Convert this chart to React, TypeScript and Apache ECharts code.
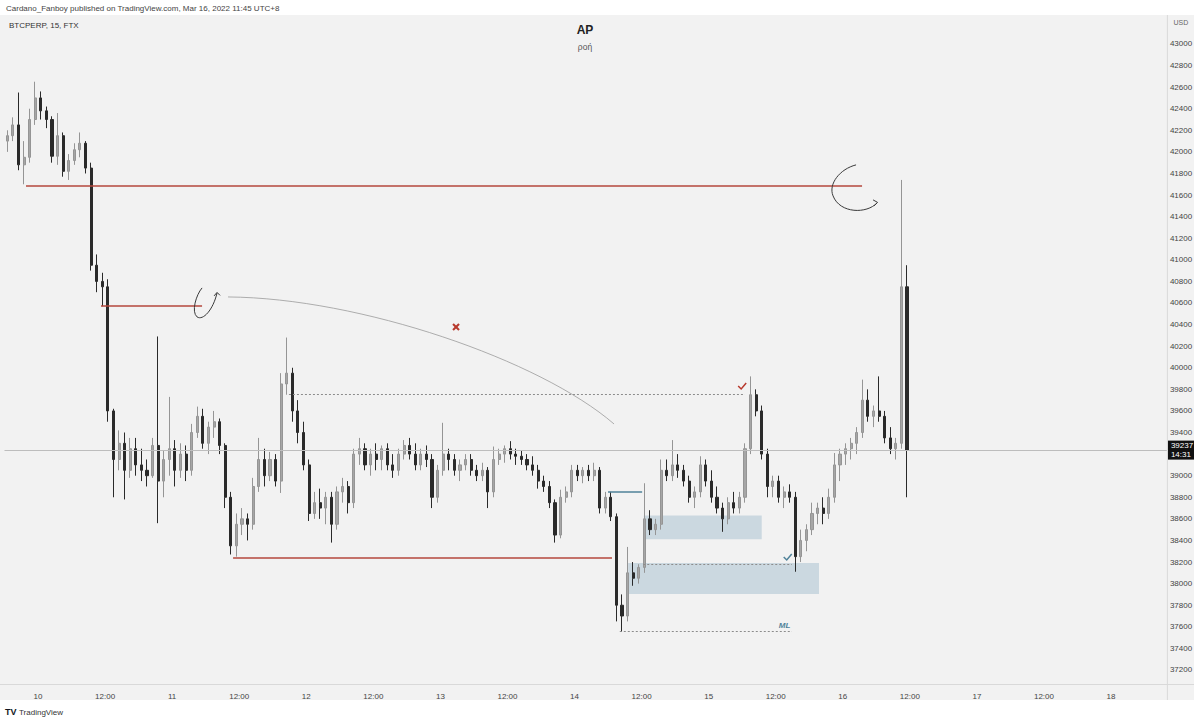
import React, { useEffect, useRef } from 'react';
import * as echarts from 'echarts';

// Hourly candles, hours counted from Mar 10 00:00 (UTC+8). First candle = Mar 9 18:00.
const HOUR0 = -6;
const HOUR_END = 202;
const FIRST_DAY = 10;

const open = [
  42100,42150,42250,41880,41950,42300,
  42500,42380,42300,41960,42150,41820,41920,42020,42080,41850,
  40950,40800,40750,39600,39150,39300,39050,39250,39100,39050,
  39000,39280,38950,39150,39250,39050,39200,39050,39400,39550,
  39300,39450,39500,39280,38800,38350,38550,38600,38550,38900,
  39150,39000,39150,38950,39850,39950,39600,39400,39100,38650,
  38750,38700,38800,38550,38850,38900,38750,39200,39250,39100,
  39200,39150,39250,39100,39050,39200,39280,39200,39100,39200,
  39150,38800,39050,39200,39150,39050,39100,39150,39050,39000,
  39050,38850,39150,39200,39250,39200,39180,39150,39100,39050,
  38950,38900,38750,38450,38800,38850,39050,39000,39050,39000,
  39050,38700,38800,38620,37800,37700,38100,38050,38150,38600,
  38500,38550,39050,39000,39100,39050,38950,38800,38850,39100,
  38950,38800,38700,38600,38750,38700,38800,39250,39750,39600,
  39200,38900,38950,38800,38850,38800,38250,38400,38500,38650,
  38700,38650,38800,39100,39200,39250,39300,39400,39700,39550,
  39600,39550,39350,39250,39300,40750,
];
const high = [
  42200,42320,42550,42100,42400,42650,
  42560,42420,42330,42360,42180,41980,42080,42180,42100,41900,
  41050,40880,40820,39620,39420,39400,39350,39350,39250,39150,
  39350,40290,39230,39730,39330,39300,39280,39480,39640,39620,
  39500,39600,39530,39300,38850,38650,38700,38650,38980,39350,
  39250,39220,39200,39950,40280,40000,39700,39500,39150,38850,
  38880,38850,38850,38900,38980,38950,39250,39350,39300,39250,
  39300,39280,39300,39200,39250,39330,39350,39300,39250,39280,
  39200,39100,39490,39250,39200,39150,39200,39200,39100,39120,
  39080,39270,39250,39280,39320,39250,39230,39200,39180,39100,
  39000,38950,38780,38870,38900,39100,39100,39080,39100,39120,
  39080,38850,38850,38650,37900,38340,38200,38180,38930,38680,
  38600,39150,39150,39330,39200,39100,39000,38900,39180,39150,
  39050,38900,38750,38800,38850,38850,39300,39920,39800,39650,
  39250,39000,39000,38900,38920,38850,38500,38550,38750,38750,
  38800,38880,39210,39250,39300,39350,39450,39890,39800,39650,
  39920,39600,39450,39350,41740,40950,
];
const low = [
  42000,42100,41830,41700,41900,42250,
  42300,42220,41900,41880,41770,41740,41880,41950,41800,40900,
  40700,40570,39500,38800,39050,38780,38980,39000,38950,38900,
  38980,38560,38800,39000,38900,38980,38950,39000,39350,39250,
  39200,39350,39200,38700,38270,38250,38450,38400,38500,38850,
  38900,38950,38900,38840,39750,39500,39300,39050,38580,38600,
  38600,38550,38380,38500,38750,38650,38700,39100,39050,39000,
  39050,39050,39050,38980,39000,39150,39150,39050,39050,39080,
  38700,38750,39000,39050,39000,38950,39050,39000,38950,38950,
  38700,38800,39100,39120,39150,39100,39100,39050,39000,38880,
  38850,38700,38380,38420,38750,38800,38950,38930,38950,38950,
  38650,38650,38580,37650,37555,37650,37980,38000,38100,38450,
  38450,38500,38950,38950,38980,38900,38750,38700,38800,38900,
  38750,38650,38480,38550,38650,38650,38750,39200,39550,39150,
  38800,38800,38750,38700,38750,38110,38200,38300,38450,38550,
  38550,38600,38750,38950,39100,39150,39200,39350,39500,39450,
  39500,39300,39200,39150,39250,38800,
];
const close = [
  42150,42250,41880,41950,42300,42500,
  42380,42300,41960,42150,41820,41920,42020,42080,41850,40950,
  40800,40750,39600,39150,39300,39050,39250,39100,39050,39000,
  39280,38950,39150,39250,39050,39200,39050,39400,39550,39300,
  39450,39500,39280,38800,38350,38550,38600,38550,38900,39150,
  39000,39150,38950,39850,39950,39600,39400,39100,38650,38750,
  38700,38800,38550,38850,38900,38750,39200,39250,39100,39200,
  39150,39250,39100,39050,39200,39280,39200,39100,39200,39150,
  38800,39050,39200,39150,39050,39100,39150,39050,39000,39050,
  38850,39150,39200,39250,39200,39180,39150,39100,39050,38950,
  38900,38750,38450,38800,38850,39050,39000,39050,39000,39050,
  38700,38800,38620,37800,37700,38100,38050,38150,38600,38500,
  38550,39050,39000,39100,39050,38950,38800,38850,39100,38950,
  38800,38700,38600,38750,38700,38800,39250,39750,39600,39200,
  38900,38950,38800,38850,38800,38250,38400,38500,38650,38700,
  38650,38800,39100,39200,39250,39300,39400,39700,39550,39600,
  39550,39350,39250,39300,40750,39237,
];

const lastPrice = 39237;
const countdown = '14:31';

// Drawings, in (hour, price)
const redLevels = [
  { from: -2.15, to: 147.45, price: 41685 },
  { from: 11.27, to: 29.35, price: 40573 },
  { from: 34.9, to: 102.7, price: 38238 },
];
const dottedLevels = [
  { from: 44.9, to: 126.5, price: 39757 },
  { from: 108.3, to: 134.9, price: 38180 },
  { from: 104.1, to: 134.9, price: 37555 },
];
const blueLevels = [{ from: 102, to: 108.1, price: 38849 }];
const zones = [
  { from: 108.4, to: 129.5, top: 38630, bottom: 38411 },
  { from: 105.6, to: 139.75, top: 38191, bottom: 37904 },
];
const curvePts = [
  [34, 40656],
  [57.6, 40647],
  [89.83, 40072],
  [103.07, 39479],
];
const redCheck = [126, 39831];
const blueCheck = [134.15, 38247];
const redCross = [74.8, 40378];
const mlLabel = [133.6, 37610];

const categories = Array.from({ length: HOUR_END - HOUR0 }, (_, i) => String(HOUR0 + i));
const candles = open.map((o, i) => [o, close[i], low[i], high[i]]);

const FONT = '"Liberation Sans", Arial, sans-serif';
const RED = '#b5473c';
const BLUE = '#4f8299';

export default function App() {
  const ref = useRef<HTMLDivElement>(null);
  useEffect(() => {
    document.body.style.margin = '0';
    const chart = echarts.init(ref.current!, null, { renderer: 'svg' });
    const seg = (from: number, to: number, price: number, lineStyle: any) => [
      { coord: [from, price], lineStyle },
      { coord: [to, price] },
    ];
    chart.setOption({
      animation: false,
      backgroundColor: '#f2f2f2',
      textStyle: { fontFamily: FONT },
      grid: { left: 4.5, right: 33.1, top: 16, bottom: 37 },
      xAxis: [
        { type: 'category', data: categories, boundaryGap: true, show: false },
        {
          type: 'value',
          min: HOUR0,
          max: HOUR_END,
          minInterval: 12,
          maxInterval: 12,
          splitNumber: 17,
          position: 'bottom',
          axisLine: { show: false },
          axisTick: { show: false },
          splitLine: { show: false },
          axisLabel: {
            fontSize: 8,
            color: '#444',
            margin: 8,
            formatter: (v: number) => {
              if (v % 12 !== 0) return '';
              return v % 24 === 0 ? String(FIRST_DAY + v / 24) : '12:00';
            },
          },
        },
      ],
      yAxis: {
        type: 'value',
        position: 'right',
        min: 37070,
        max: 43259,
        minInterval: 200,
        maxInterval: 200,
        splitNumber: 30,
        axisLine: { show: false },
        axisTick: { show: false },
        splitLine: { show: false },
        axisLabel: {
          fontSize: 8,
          color: '#444',
          margin: 3,
          formatter: (v: number) => (v % 200 === 0 && v <= 43000 ? String(v) : ''),
        },
      },
      series: [
        {
          type: 'line',
          xAxisIndex: 1,
          yAxisIndex: 0,
          data: [],
          z: 1,
          silent: true,
          markArea: {
            silent: true,
            itemStyle: { color: '#cbd8e0' },
            data: zones.map((zn) => [
              { coord: [zn.from, zn.top] },
              { coord: [zn.to, zn.bottom] },
            ]),
          },
        },
        {
          type: 'candlestick',
          xAxisIndex: 0,
          yAxisIndex: 0,
          data: candles,
          barWidth: 2.6,
          z: 3,
          silent: true,
          itemStyle: {
            color: '#a6a6a6',
            color0: '#2a2a2a',
            borderColor: '#959595',
            borderColor0: '#2a2a2a',
            borderWidth: 1,
          },
          markLine: {
            silent: true,
            symbol: ['none', 'none'],
            lineStyle: { color: '#bdbdbd', width: 1, type: 'solid' },
            label: {
              show: true,
              position: 'end',
              distance: 1,
              formatter: `${lastPrice}\n${countdown}`,
              backgroundColor: '#111',
              color: '#fff',
              fontSize: 8,
              lineHeight: 9,
              padding: [1, 3, 0, 3],
            },
            data: [{ yAxis: lastPrice }],
          },
        },
        {
          type: 'line',
          xAxisIndex: 1,
          yAxisIndex: 0,
          data: [],
          z: 5,
          silent: true,
          markLine: {
            silent: true,
            symbol: ['none', 'none'],
            label: { show: false },
            data: [
              ...redLevels.map((l) => seg(l.from, l.to, l.price, { color: RED, width: 1.5, type: 'solid' })),
              ...dottedLevels.map((l) => seg(l.from, l.to, l.price, { color: '#8c8c8c', width: 1, type: [2, 2] })),
              ...blueLevels.map((l) => seg(l.from, l.to, l.price, { color: BLUE, width: 1.5, type: 'solid' })),
            ],
          },
        },
      ],
    });

    const X = (h: number) => chart.convertToPixel({ xAxisIndex: 1 } as any, h) as unknown as number;
    const Y = (p: number) => chart.convertToPixel({ yAxisIndex: 0 } as any, p) as unknown as number;
    const xr = X(HOUR_END);
    const yb = Y(37070);

    const a1x = X(redLevels[1].to), a1y = Y(redLevels[1].price);
    const a2x = X(redLevels[0].to), a2y = Y(redLevels[0].price);
    const ink = { stroke: '#3a3a3a', lineWidth: 1, fill: 'none' };
    const bz = (ax: number, ay: number, p: number[]) => ({
      type: 'bezierCurve',
      z: 6,
      shape: {
        x1: ax + p[0], y1: ay + p[1],
        cpx1: ax + p[2], cpy1: ay + p[3],
        cpx2: ax + p[4], cpy2: ay + p[5],
        x2: ax + p[6], y2: ay + p[7],
      },
      style: ink,
    });
    const pl = (ax: number, ay: number, pts: number[][], style: any) => ({
      type: 'polyline',
      z: 6,
      shape: { points: pts.map(([dx, dy]) => [ax + dx, ay + dy]) },
      style,
    });

    const cx = X(redCross[0]), cy = Y(redCross[1]);
    const rcx = X(redCheck[0]), rcy = Y(redCheck[1]);
    const bcx = X(blueCheck[0]), bcy = Y(blueCheck[1]);

    chart.setOption({
      graphic: {
        elements: [
          { type: 'rect', z: 8, shape: { x: 0, y: 0, width: 1200, height: 15 }, style: { fill: '#ffffff' } },
          { type: 'rect', z: 8, shape: { x: 0, y: 700, width: 1200, height: 21 }, style: { fill: '#ffffff' } },
          { type: 'rect', z: 8, shape: { x: 1194, y: 0, width: 6, height: 721 }, style: { fill: '#ffffff' } },
          { type: 'line', z: 7, shape: { x1: 0, y1: yb + 0.5, x2: 1194, y2: yb + 0.5 }, style: { stroke: '#d9d9d9', lineWidth: 1 } },
          { type: 'line', z: 7, shape: { x1: xr + 0.5, y1: 15, x2: xr + 0.5, y2: 700 }, style: { stroke: '#d9d9d9', lineWidth: 1 } },
          { type: 'text', z: 9, style: { text: 'Cardano_Fanboy published on TradingView.com, Mar 16, 2022 11:45 UTC+8', x: 6, y: 8, fill: '#444', fontSize: 8, fontFamily: FONT, verticalAlign: 'middle' } },
          { type: 'text', z: 9, style: { text: 'BTCPERP, 15, FTX', x: 9, y: 25, fill: '#333', fontSize: 8, fontFamily: FONT, verticalAlign: 'middle' } },
          { type: 'text', z: 9, style: { text: 'AP', x: 585, y: 30, fill: '#222', fontSize: 12, fontWeight: 'bold', fontFamily: FONT, align: 'center', verticalAlign: 'middle' } },
          { type: 'text', z: 9, style: { text: 'ροή', x: 585, y: 47, fill: '#555', fontSize: 8.5, fontFamily: FONT, align: 'center', verticalAlign: 'middle' } },
          { type: 'text', z: 9, style: { text: 'USD', x: xr + 14, y: 22, fill: '#666', fontSize: 7, fontFamily: FONT, align: 'center', verticalAlign: 'middle' } },
          { type: 'text', z: 9, style: { text: 'TV', x: 5, y: 712, fill: '#131722', fontSize: 9, fontWeight: 900, fontFamily: FONT, verticalAlign: 'middle' } },
          { type: 'text', z: 9, style: { text: 'TradingView', x: 19, y: 712, fill: '#333', fontSize: 8, fontFamily: FONT, verticalAlign: 'middle' } },
          {
            type: 'bezierCurve',
            z: 6,
            shape: {
              x1: X(curvePts[0][0]), y1: Y(curvePts[0][1]),
              cpx1: X(curvePts[1][0]), cpy1: Y(curvePts[1][1]),
              cpx2: X(curvePts[2][0]), cpy2: Y(curvePts[2][1]),
              x2: X(curvePts[3][0]), y2: Y(curvePts[3][1]),
            },
            style: { stroke: '#9a9a9a', lineWidth: 0.8, fill: 'none' },
          },
          bz(a1x, a1y, [0, -18, -6, -11, -11, 6, -5, 11]),
          bz(a1x, a1y, [-5, 11, 1, 15, 11, 4, 15, -13]),
          pl(a1x, a1y, [[12, -10], [15, -13.5], [18, -10.5]], ink),
          bz(a2x, a2y, [-6, -21, -22, -17, -34, -2, -29, 10]),
          bz(a2x, a2y, [-29, 10, -22, 28, 5, 28, 15, 17]),
          pl(a2x, a2y, [[11, 14], [15.5, 16.5], [12, 20]], ink),
          { type: 'line', z: 6, shape: { x1: cx - 3, y1: cy - 3, x2: cx + 3, y2: cy + 3 }, style: { stroke: '#b83a2e', lineWidth: 2 } },
          { type: 'line', z: 6, shape: { x1: cx + 3, y1: cy - 3, x2: cx - 3, y2: cy + 3 }, style: { stroke: '#b83a2e', lineWidth: 2 } },
          pl(rcx, rcy, [[-4, 0], [-1, 3], [4, -3]], { stroke: '#b83a2e', lineWidth: 1.5, fill: 'none' }),
          pl(bcx, bcy, [[-4, 0], [-1, 3], [4, -3]], { stroke: BLUE, lineWidth: 1.5, fill: 'none' }),
          { type: 'text', z: 6, style: { text: 'ML', x: X(mlLabel[0]), y: Y(mlLabel[1]), fill: BLUE, fontSize: 8, fontStyle: 'italic', fontWeight: 'bold', fontFamily: FONT, align: 'center', verticalAlign: 'middle' } },
        ],
      },
    });
    return () => chart.dispose();
  }, []);
  return <div ref={ref} style={{ position: 'fixed', left: 0, top: 0, width: 1200, height: 721 }} />;
}
